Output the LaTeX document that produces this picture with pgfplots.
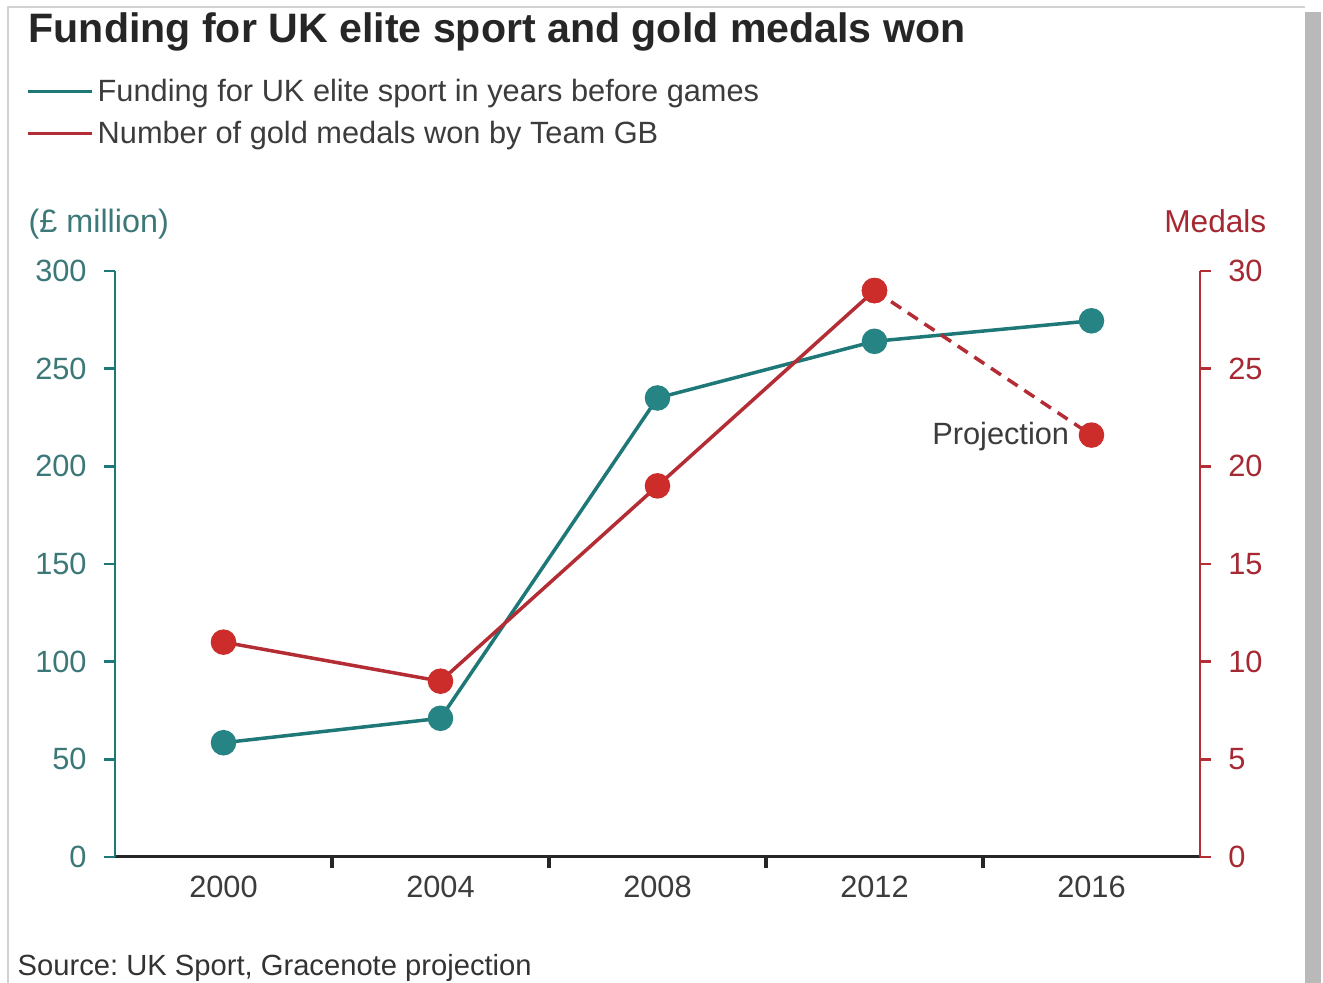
\documentclass[border=0pt]{standalone}
\usepackage{fontspec}
\setmainfont{Liberation Sans}
\usepackage{pgfplots}
\pgfplotsset{compat=1.18}
\definecolor{tealm}{RGB}{38,132,132}
\definecolor{teall}{RGB}{30,120,120}
\definecolor{tealt}{RGB}{60,120,120}
\definecolor{redm}{RGB}{204,44,42}
\definecolor{redl}{RGB}{180,44,52}
\definecolor{redt}{RGB}{165,40,50}
\definecolor{txt}{RGB}{60,60,60}
\frenchspacing
\begin{document}
\begin{tikzpicture}
\begin{scope}[x=0.1mm,y=-0.1mm]
\path[use as bounding box,fill=white] (0,0) rectangle (1323,983);
\draw[gray!35,line width=0.15mm] (8,983) -- (8,7) -- (1305,7);
\fill[gray!55] (1305,12) rectangle (1321,983);
\node[anchor=base west,inner sep=0,font=\fontsize{11.7}{14}\selectfont\bfseries,text=black!85] at (28,42) {Funding for UK elite sport and gold medals won};
\draw[teall,line width=0.3mm] (28,91) -- (92,91);
\node[anchor=base west,inner sep=0,font=\fontsize{8.75}{10}\selectfont,text=txt] at (97,101) {Funding for UK elite sport in years before games};
\draw[redl,line width=0.3mm] (28,133) -- (92,133);
\node[anchor=base west,inner sep=0,font=\fontsize{8.75}{10}\selectfont,text=txt] at (97,143) {Number of gold medals won by Team GB};
\node[anchor=base west,inner sep=0,font=\fontsize{9.2}{10}\selectfont,text=tealt] at (28,232) {(£ million)};
\node[anchor=base east,inner sep=0,font=\fontsize{9.0}{10}\selectfont,text=redt] at (1267,232) {Medals};
\node[anchor=base west,inner sep=0,font=\fontsize{8.3}{10}\selectfont,text=black!80] at (17,975) {Source: UK Sport, Gracenote projection};
\end{scope}
\begin{axis}[
  at={(11.5mm,-85.7mm)}, anchor=south west,
  scale only axis, width=108.5mm, height=58.6mm,
  xmin=1998, xmax=2018, ymin=0, ymax=300,
  axis x line*=bottom, axis y line*=left,
  x axis line style={black!85,line width=0.3mm},
  y axis line style={teall,line width=0.25mm},
  xtick={2000,2004,2008,2012,2016},
  xticklabels={2000,2004,2008,2012,2016},
  minor xtick={2002,2006,2010,2014},
  major x tick style={draw=none},
  minor x tick style={black!85,line width=0.35mm},
  minor tick length=1.1mm,
  ytick={0,50,...,300},
  y tick style={teall,line width=0.25mm},
  major tick length=1.1mm,
  tick align=outside,
  ticklabel style={font=\fontsize{8.75}{10}\selectfont},
  x tick label style={text=txt, yshift=0.4mm},
  y tick label style={text=tealt, xshift=-0.5mm},
  /pgf/number format/assume math mode=true,
  /pgf/number format/1000 sep={},
  clip=false,
]
\addplot[teall,line width=0.35mm,mark=*,mark size=1.1mm,mark options={fill=tealm,draw=tealm}] coordinates {
(2000,58.5) (2004,71) (2008,235) (2012,264) (2016,274.5)};
\end{axis}
\begin{axis}[
  at={(11.5mm,-85.7mm)}, anchor=south west,
  scale only axis, width=108.5mm, height=58.6mm,
  xmin=1998, xmax=2018, ymin=0, ymax=30,
  axis x line=none, axis y line*=right,
  y axis line style={redl,line width=0.25mm},
  ytick={0,5,...,30},
  y tick style={redl,line width=0.25mm},
  major tick length=1.1mm,
  tick align=outside,
  ticklabel style={font=\fontsize{8.75}{10}\selectfont},
  y tick label style={text=redt, xshift=0.5mm},
  /pgf/number format/assume math mode=true,
  clip=false,
]
\addplot[redl,line width=0.35mm,mark=*,mark size=1.1mm,mark options={fill=redm,draw=redm}] coordinates {
(2000,11) (2004,9) (2008,19) (2012,29)};
\addplot[redl,line width=0.35mm,dashed,dash pattern=on 1.2mm off 0.8mm,mark=*,mark size=1.1mm,mark options={fill=redm,draw=redm,solid}] coordinates {
(2012,29) (2016,21.6)};
\node[anchor=base east,inner sep=0,font=\fontsize{8.75}{10}\selectfont,text=txt] at (axis cs:2015.6,21.1) {Projection};
\end{axis}
\end{tikzpicture}
\end{document}
